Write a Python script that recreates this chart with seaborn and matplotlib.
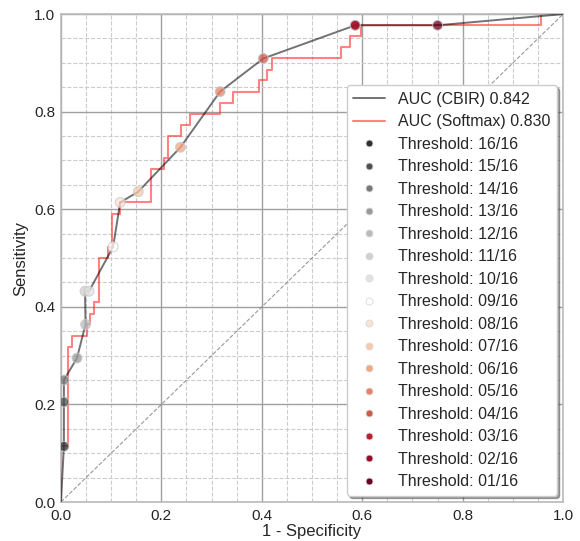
import numpy as np
import pandas as pd
import seaborn as sns
import matplotlib.pyplot as plt
from matplotlib.lines import Line2D
from matplotlib.ticker import MultipleLocator


# CBIR curve (one point per threshold, 16/16 -> 01/16)
cbir_fpr = [0.0, 0.006, 0.006, 0.006, 0.032, 0.049, 0.048, 0.056, 0.104, 0.118,
            0.154, 0.238, 0.317, 0.403, 0.586, 0.586, 0.750, 1.0]
cbir_tpr = [0.0, 0.114, 0.205, 0.250, 0.295, 0.364, 0.432, 0.432, 0.523, 0.614,
            0.636, 0.727, 0.841, 0.909, 0.977, 0.977, 0.977, 1.0]
thresholds = ["16/16", "15/16", "14/16", "13/16", "12/16", "11/16", "10/16", "09/16",
              "08/16", "07/16", "06/16", "05/16", "04/16", "03/16", "02/16", "01/16"]

# Softmax curve (step corners)
softmax_fpr = [0.0, 0.0, 0.0146, 0.0146, 0.023, 0.023, 0.051, 0.051, 0.058, 0.058,
               0.066, 0.066, 0.076, 0.076, 0.094, 0.094, 0.101, 0.101, 0.118, 0.118,
               0.179, 0.179, 0.205, 0.205, 0.214, 0.214, 0.240, 0.240, 0.257, 0.257,
               0.317, 0.317, 0.343, 0.343, 0.395, 0.395, 0.411, 0.411, 0.421, 0.421,
               0.558, 0.558, 0.576, 0.576, 0.598, 0.598, 0.956, 0.956, 1.0]
softmax_tpr = [0.0, 0.114, 0.114, 0.318, 0.318, 0.341, 0.341, 0.364, 0.364, 0.386,
               0.386, 0.409, 0.409, 0.500, 0.500, 0.523, 0.523, 0.591, 0.591, 0.614,
               0.614, 0.682, 0.682, 0.705, 0.705, 0.750, 0.750, 0.773, 0.773, 0.795,
               0.795, 0.818, 0.818, 0.841, 0.841, 0.864, 0.864, 0.886, 0.886, 0.909,
               0.909, 0.932, 0.932, 0.955, 0.955, 0.977, 0.977, 1.0, 1.0]

auc_cbir = 0.842
auc_softmax = 0.830

sns.set_theme(style="whitegrid")
plt.rcParams['font.family'] = ['Liberation Sans', 'DejaVu Sans']

fig, ax = plt.subplots(figsize=(5.8, 5.41), dpi=100)
fig.subplots_adjust(left=0.105, right=0.971, bottom=0.072, top=0.974)

# gray -> white -> red, one colour per threshold
palette = sns.color_palette(["#303030", "#505050", "#787878", "#9a9a9a", "#bababa",
                             "#d0d0d0", "#e3e3e3", "#ffffff", "#fce3d5", "#f9c9ab",
                             "#f4a582", "#e58367", "#d05a4b", "#b8202f", "#9b0b25",
                             "#6b0020"])

# diagonal
ax.plot([0, 1], [0, 1], ls='--', color='gray', lw=0.8, alpha=0.8, zorder=1)

sns.lineplot(x=softmax_fpr, y=softmax_tpr, sort=False, estimator=None,
             color='#ff3030', alpha=0.6, lw=1.5, ax=ax, zorder=2)
sns.lineplot(x=cbir_fpr, y=cbir_tpr, sort=False, estimator=None,
             color='black', alpha=0.55, lw=1.4, ax=ax, zorder=3)

pts = pd.DataFrame({"fpr": cbir_fpr[1:-1], "tpr": cbir_tpr[1:-1], "threshold": thresholds})
sns.scatterplot(data=pts, x="fpr", y="tpr", hue="threshold", hue_order=thresholds,
                palette=palette, s=50, alpha=0.75, edgecolor='#c8c8c8', linewidth=0.8,
                legend=False, ax=ax, zorder=4)

ax.set_xlim(0, 1)
ax.set_ylim(0, 1)
ax.xaxis.set_major_locator(MultipleLocator(0.2))
ax.yaxis.set_major_locator(MultipleLocator(0.2))
ax.xaxis.set_minor_locator(MultipleLocator(0.05))
ax.yaxis.set_minor_locator(MultipleLocator(0.05))
ax.grid(which='major', color='#a0a0a0', lw=1.0, ls='-')
ax.grid(which='minor', color='#cccccc', lw=0.8, ls='--')
ax.tick_params(which='both', length=0, labelsize=11)
ax.tick_params(axis='x', pad=5)
ax.tick_params(axis='y', pad=4)
for sp in ax.spines.values():
    sp.set_color('#bbbbbb')
    sp.set_linewidth(1.2)

ax.set_xlabel("1 - Specificity", fontsize=12, labelpad=1)
ax.set_ylabel("Sensitivity", fontsize=12, labelpad=4)

handles = [Line2D([], [], color='black', alpha=0.55, lw=1.4),
           Line2D([], [], color='#ff3030', alpha=0.6, lw=1.5)]
labels = [f"AUC (CBIR) {auc_cbir:.3f}", f"AUC (Softmax) {auc_softmax:.3f}"]
for t, c in zip(thresholds, palette):
    handles.append(Line2D([], [], ls='', marker='o', markersize=5, color=c,
                          markeredgecolor='#d8d8d8', markeredgewidth=0.6))
    labels.append(f"Threshold: {t}")
ax.legend(handles, labels, loc='lower right', fontsize=11.5, frameon=True,
          shadow=True, fancybox=True, framealpha=1, labelspacing=0.47,
          borderaxespad=0.4, handlelength=2.0)

plt.savefig("out.png", dpi=100)
plt.close()
